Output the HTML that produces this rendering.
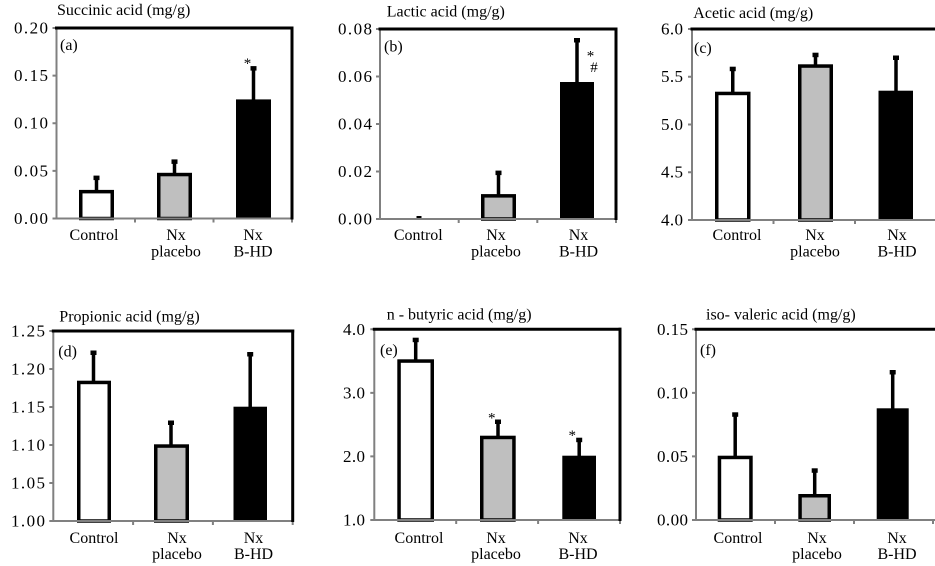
<!DOCTYPE html>
<html><head><meta charset="utf-8"><style>
html,body{margin:0;padding:0;background:#fff;}
svg{display:block;}
text{font-family:"Liberation Serif","Times New Roman",serif;fill:#000;}
.t{font-size:16px;}
.tk{font-size:17px;text-anchor:end;}
.c{font-size:16px;text-anchor:middle;}
.ax{stroke:#808080;stroke-width:2;fill:none;}
.bd{stroke:#000;stroke-width:3;fill:none;}
.bw{fill:#fff;stroke:#000;stroke-width:3.5;}
.bg{fill:#bfbfbf;stroke:#000;stroke-width:3.5;}
.eb{stroke:#000;stroke-width:3.5;}
.st{font-size:15px;text-anchor:middle;}
</style></head><body>
<svg width="935" height="566" viewBox="0 0 935 566" xmlns="http://www.w3.org/2000/svg">
<rect width="935" height="566" fill="#fff"/>

<!-- ===== Panel a ===== -->
<text class="t" x="57" y="15">Succinic acid (mg/g)</text>
<g>
<rect class="bw" x="80.75" y="191.65" width="31.5" height="26.85"/>
<line class="eb" x1="96.5" y1="190" x2="96.5" y2="177"/><rect x="93.5" y="175.6" width="6" height="4.5"/>
<rect class="bg" x="158.75" y="174.55" width="31.5" height="43.95"/>
<line class="eb" x1="174.5" y1="173" x2="174.5" y2="161"/><rect x="171.5" y="159.4" width="6" height="4.5"/>
<rect x="236" y="99.4" width="35" height="119.1"/>
<line class="eb" x1="253.5" y1="100" x2="253.5" y2="68"/><rect x="250.5" y="66.1" width="6" height="4.5"/>
<text class="st" x="247.5" y="68">*</text>
</g>
<line class="ax" x1="56.5" y1="28" x2="56.5" y2="219.5"/>
<line class="ax" x1="56.5" y1="218.5" x2="292" y2="218.5"/>
<path class="ax" d="M52.5 28H56.5M52.5 75.6H56.5M52.5 123.25H56.5M52.5 170.9H56.5M52.5 218.5H56.5M135 218.5V222.5M213.5 218.5V222.5M292 218.5V222.5"/>
<line class="bd" x1="55" y1="28" x2="293.5" y2="28"/>
<line class="bd" x1="292" y1="26.5" x2="292" y2="219.5"/>
<text class="t" x="60" y="50">(a)</text>
<text class="tk" x="48" y="33.5" textLength="34" lengthAdjust="spacing">0.20</text>
<text class="tk" x="48" y="81" textLength="34" lengthAdjust="spacing">0.15</text>
<text class="tk" x="48" y="128.7" textLength="34" lengthAdjust="spacing">0.10</text>
<text class="tk" x="48" y="176.3" textLength="34" lengthAdjust="spacing">0.05</text>
<text class="tk" x="48" y="224" textLength="34" lengthAdjust="spacing">0.00</text>
<text class="c" x="94" y="240">Control</text>
<text class="c" x="176" y="240">Nx</text><text class="c" x="176" y="256.5">placebo</text>
<text class="c" x="253" y="240">Nx</text><text class="c" x="253" y="256.5">B-HD</text>

<!-- ===== Panel b ===== -->
<text class="t" x="386.7" y="16.5">Lactic acid (mg/g)</text>
<g>
<rect x="416.5" y="216" width="5" height="2.5"/>
<rect class="bg" x="482.75" y="195.85" width="31.5" height="23.15"/>
<line class="eb" x1="498.5" y1="195" x2="498.5" y2="172"/><rect x="495.5" y="170.6" width="6" height="4.5"/>
<rect x="560" y="82" width="34" height="137"/>
<line class="eb" x1="577" y1="83" x2="577" y2="40"/><rect x="574" y="38" width="6" height="4.5"/>
<text class="st" x="590.5" y="60.5">*</text>
<text class="st" x="594" y="72">#</text>
</g>
<line class="ax" x1="380" y1="29" x2="380" y2="220"/>
<line class="ax" x1="380" y1="219" x2="616" y2="219"/>
<path class="ax" d="M376 29H380M376 76.5H380M376 124H380M376 171.5H380M376 219H380M458.7 219V223M537.3 219V223M616 219V223"/>
<line class="bd" x1="378.5" y1="29" x2="617.5" y2="29"/>
<line class="bd" x1="616" y1="27.5" x2="616" y2="220"/>
<text class="t" x="384" y="51.5">(b)</text>
<text class="tk" x="372" y="34.5" textLength="34" lengthAdjust="spacing">0.08</text>
<text class="tk" x="372" y="82" textLength="34" lengthAdjust="spacing">0.06</text>
<text class="tk" x="372" y="129.5" textLength="34" lengthAdjust="spacing">0.04</text>
<text class="tk" x="372" y="177" textLength="34" lengthAdjust="spacing">0.02</text>
<text class="tk" x="372" y="224.5" textLength="34" lengthAdjust="spacing">0.00</text>
<text class="c" x="418.3" y="240">Control</text>
<text class="c" x="496" y="240">Nx</text><text class="c" x="496" y="256.5">placebo</text>
<text class="c" x="578.5" y="240">Nx</text><text class="c" x="578.5" y="256.5">B-HD</text>

<!-- ===== Panel c ===== -->
<text class="t" x="693.3" y="18">Acetic acid (mg/g)</text>
<g>
<rect class="bw" x="716.75" y="93.45" width="32" height="126.55"/>
<line class="eb" x1="732.75" y1="92" x2="732.75" y2="68"/><rect x="729.75" y="66.7" width="6" height="4.5"/>
<rect class="bg" x="799.75" y="66.05" width="31.5" height="153.95"/>
<line class="eb" x1="815.5" y1="65" x2="815.5" y2="54"/><rect x="812.5" y="52.7" width="6" height="4.5"/>
<rect x="878.5" y="90.7" width="34.5" height="129.3"/>
<line class="eb" x1="896" y1="91" x2="896" y2="57"/><rect x="893" y="55.5" width="6" height="4.5"/>
</g>
<line class="ax" x1="692" y1="29" x2="692" y2="221"/>
<line class="ax" x1="692" y1="220" x2="935" y2="220"/>
<path class="ax" d="M688 29H692M688 76.75H692M688 124.5H692M688 172.25H692M688 220H692M773.5 220V224M855 220V224"/>
<line class="bd" x1="690.5" y1="29" x2="935" y2="29"/>
<text class="t" x="694" y="53">(c)</text>
<text class="tk" x="683" y="34.5" textLength="22" lengthAdjust="spacing">6.0</text>
<text class="tk" x="683" y="82.2" textLength="22" lengthAdjust="spacing">5.5</text>
<text class="tk" x="683" y="130" textLength="22" lengthAdjust="spacing">5.0</text>
<text class="tk" x="683" y="177.7" textLength="22" lengthAdjust="spacing">4.5</text>
<text class="tk" x="683" y="225.5" textLength="22" lengthAdjust="spacing">4.0</text>
<text class="c" x="737" y="240">Control</text>
<text class="c" x="815" y="240">Nx</text><text class="c" x="815" y="256.5">placebo</text>
<text class="c" x="897" y="240">Nx</text><text class="c" x="897" y="256.5">B-HD</text>

<!-- ===== Panel d ===== -->
<text class="t" x="59.3" y="321.7">Propionic acid (mg/g)</text>
<g>
<rect class="bw" x="78.75" y="382.45" width="30.5" height="138.55"/>
<line class="eb" x1="93.5" y1="381" x2="93.5" y2="352"/><rect x="90.5" y="350.5" width="6" height="4.5"/>
<rect class="bg" x="155.75" y="446.05" width="31.5" height="74.95"/>
<line class="eb" x1="171" y1="445" x2="171" y2="422"/><rect x="168" y="420.5" width="6" height="4.5"/>
<rect x="233.5" y="406.7" width="33.5" height="114.3"/>
<line class="eb" x1="250.2" y1="407" x2="250.2" y2="354"/><rect x="247.2" y="352" width="6" height="4.5"/>
</g>
<line class="ax" x1="53.3" y1="331" x2="53.3" y2="522"/>
<line class="ax" x1="53.3" y1="521" x2="292.7" y2="521"/>
<path class="ax" d="M49.3 331H53.3M49.3 369H53.3M49.3 407H53.3M49.3 445H53.3M49.3 483H53.3M49.3 521H53.3M133.1 521V525M212.9 521V525M292.7 521V525"/>
<line class="bd" x1="51.8" y1="331" x2="294.2" y2="331"/>
<line class="bd" x1="292.7" y1="329.5" x2="292.7" y2="522"/>
<text class="t" x="58.3" y="356.5">(d)</text>
<text class="tk" x="45" y="336.5" textLength="34" lengthAdjust="spacing">1.25</text>
<text class="tk" x="45" y="374.5" textLength="34" lengthAdjust="spacing">1.20</text>
<text class="tk" x="45" y="412.5" textLength="34" lengthAdjust="spacing">1.15</text>
<text class="tk" x="45" y="450.5" textLength="34" lengthAdjust="spacing">1.10</text>
<text class="tk" x="45" y="488.5" textLength="34" lengthAdjust="spacing">1.05</text>
<text class="tk" x="45" y="526.5" textLength="34" lengthAdjust="spacing">1.00</text>
<text class="c" x="94" y="543">Control</text>
<text class="c" x="177" y="543">Nx</text><text class="c" x="177" y="559">placebo</text>
<text class="c" x="253.5" y="543">Nx</text><text class="c" x="253.5" y="559">B-HD</text>

<!-- ===== Panel e ===== -->
<text class="t" x="386.7" y="319.3">n - butyric acid (mg/g)</text>
<g>
<rect class="bw" x="399.05" y="361.05" width="33.2" height="158.95"/>
<line class="eb" x1="415.7" y1="360" x2="415.7" y2="339"/><rect x="412.7" y="337.7" width="6" height="4.5"/>
<rect class="bg" x="481.75" y="437.45" width="32.2" height="82.55"/>
<line class="eb" x1="498" y1="436" x2="498" y2="421"/><rect x="495" y="419.5" width="6" height="4.5"/>
<rect x="562.3" y="455.7" width="33.7" height="64.3"/>
<line class="eb" x1="579.2" y1="456" x2="579.2" y2="439"/><rect x="576.2" y="437.7" width="6" height="4.5"/>
<text class="st" x="491.7" y="422.5">*</text>
<text class="st" x="572.3" y="440">*</text>
</g>
<line class="ax" x1="374.3" y1="329.3" x2="374.3" y2="521"/>
<line class="ax" x1="374.3" y1="520" x2="620" y2="520"/>
<path class="ax" d="M370.3 329.3H374.3M370.3 392.9H374.3M370.3 456.4H374.3M370.3 520H374.3M456.2 520V524M538.1 520V524M620 520V524"/>
<line class="bd" x1="372.8" y1="329.3" x2="621.5" y2="329.3"/>
<line class="bd" x1="620" y1="327.8" x2="620" y2="521"/>
<text class="t" x="380" y="355">(e)</text>
<text class="tk" x="365" y="334.8" textLength="22" lengthAdjust="spacing">4.0</text>
<text class="tk" x="365" y="398.4" textLength="22" lengthAdjust="spacing">3.0</text>
<text class="tk" x="365" y="461.9" textLength="22" lengthAdjust="spacing">2.0</text>
<text class="tk" x="365" y="525.5" textLength="22" lengthAdjust="spacing">1.0</text>
<text class="c" x="419" y="543">Control</text>
<text class="c" x="496" y="543">Nx</text><text class="c" x="496" y="559">placebo</text>
<text class="c" x="578" y="543">Nx</text><text class="c" x="578" y="559">B-HD</text>

<!-- ===== Panel f ===== -->
<text class="t" x="706" y="319.5">iso- valeric acid (mg/g)</text>
<g>
<rect class="bw" x="719.45" y="457.45" width="31.5" height="62.55"/>
<line class="eb" x1="735.2" y1="456" x2="735.2" y2="414"/><rect x="732.2" y="412.3" width="6" height="4.5"/>
<rect class="bg" x="800.05" y="495.75" width="29.2" height="24.25"/>
<line class="eb" x1="814.7" y1="494" x2="814.7" y2="470"/><rect x="811.7" y="468.3" width="6" height="4.5"/>
<rect x="876.7" y="408.3" width="32" height="111.7"/>
<line class="eb" x1="892.7" y1="409" x2="892.7" y2="372"/><rect x="889.7" y="370" width="6" height="4.5"/>
</g>
<line class="ax" x1="696" y1="329.3" x2="696" y2="521"/>
<line class="ax" x1="696" y1="520" x2="935" y2="520"/>
<path class="ax" d="M692 329.3H696M692 392.9H696M692 456.4H696M692 520H696M775 520V524M854 520V524M933 520V524"/>
<line class="bd" x1="694.5" y1="329.3" x2="935" y2="329.3"/>
<text class="t" x="700" y="355">(f)</text>
<text class="tk" x="688" y="334.8" textLength="31" lengthAdjust="spacing">0.15</text>
<text class="tk" x="688" y="398.4" textLength="31" lengthAdjust="spacing">0.10</text>
<text class="tk" x="688" y="461.9" textLength="31" lengthAdjust="spacing">0.05</text>
<text class="tk" x="688" y="525.5" textLength="31" lengthAdjust="spacing">0.00</text>
<text class="c" x="738" y="543">Control</text>
<text class="c" x="817" y="543">Nx</text><text class="c" x="817" y="559">placebo</text>
<text class="c" x="897" y="543">Nx</text><text class="c" x="897" y="559">B-HD</text>
</svg>
</body></html>
